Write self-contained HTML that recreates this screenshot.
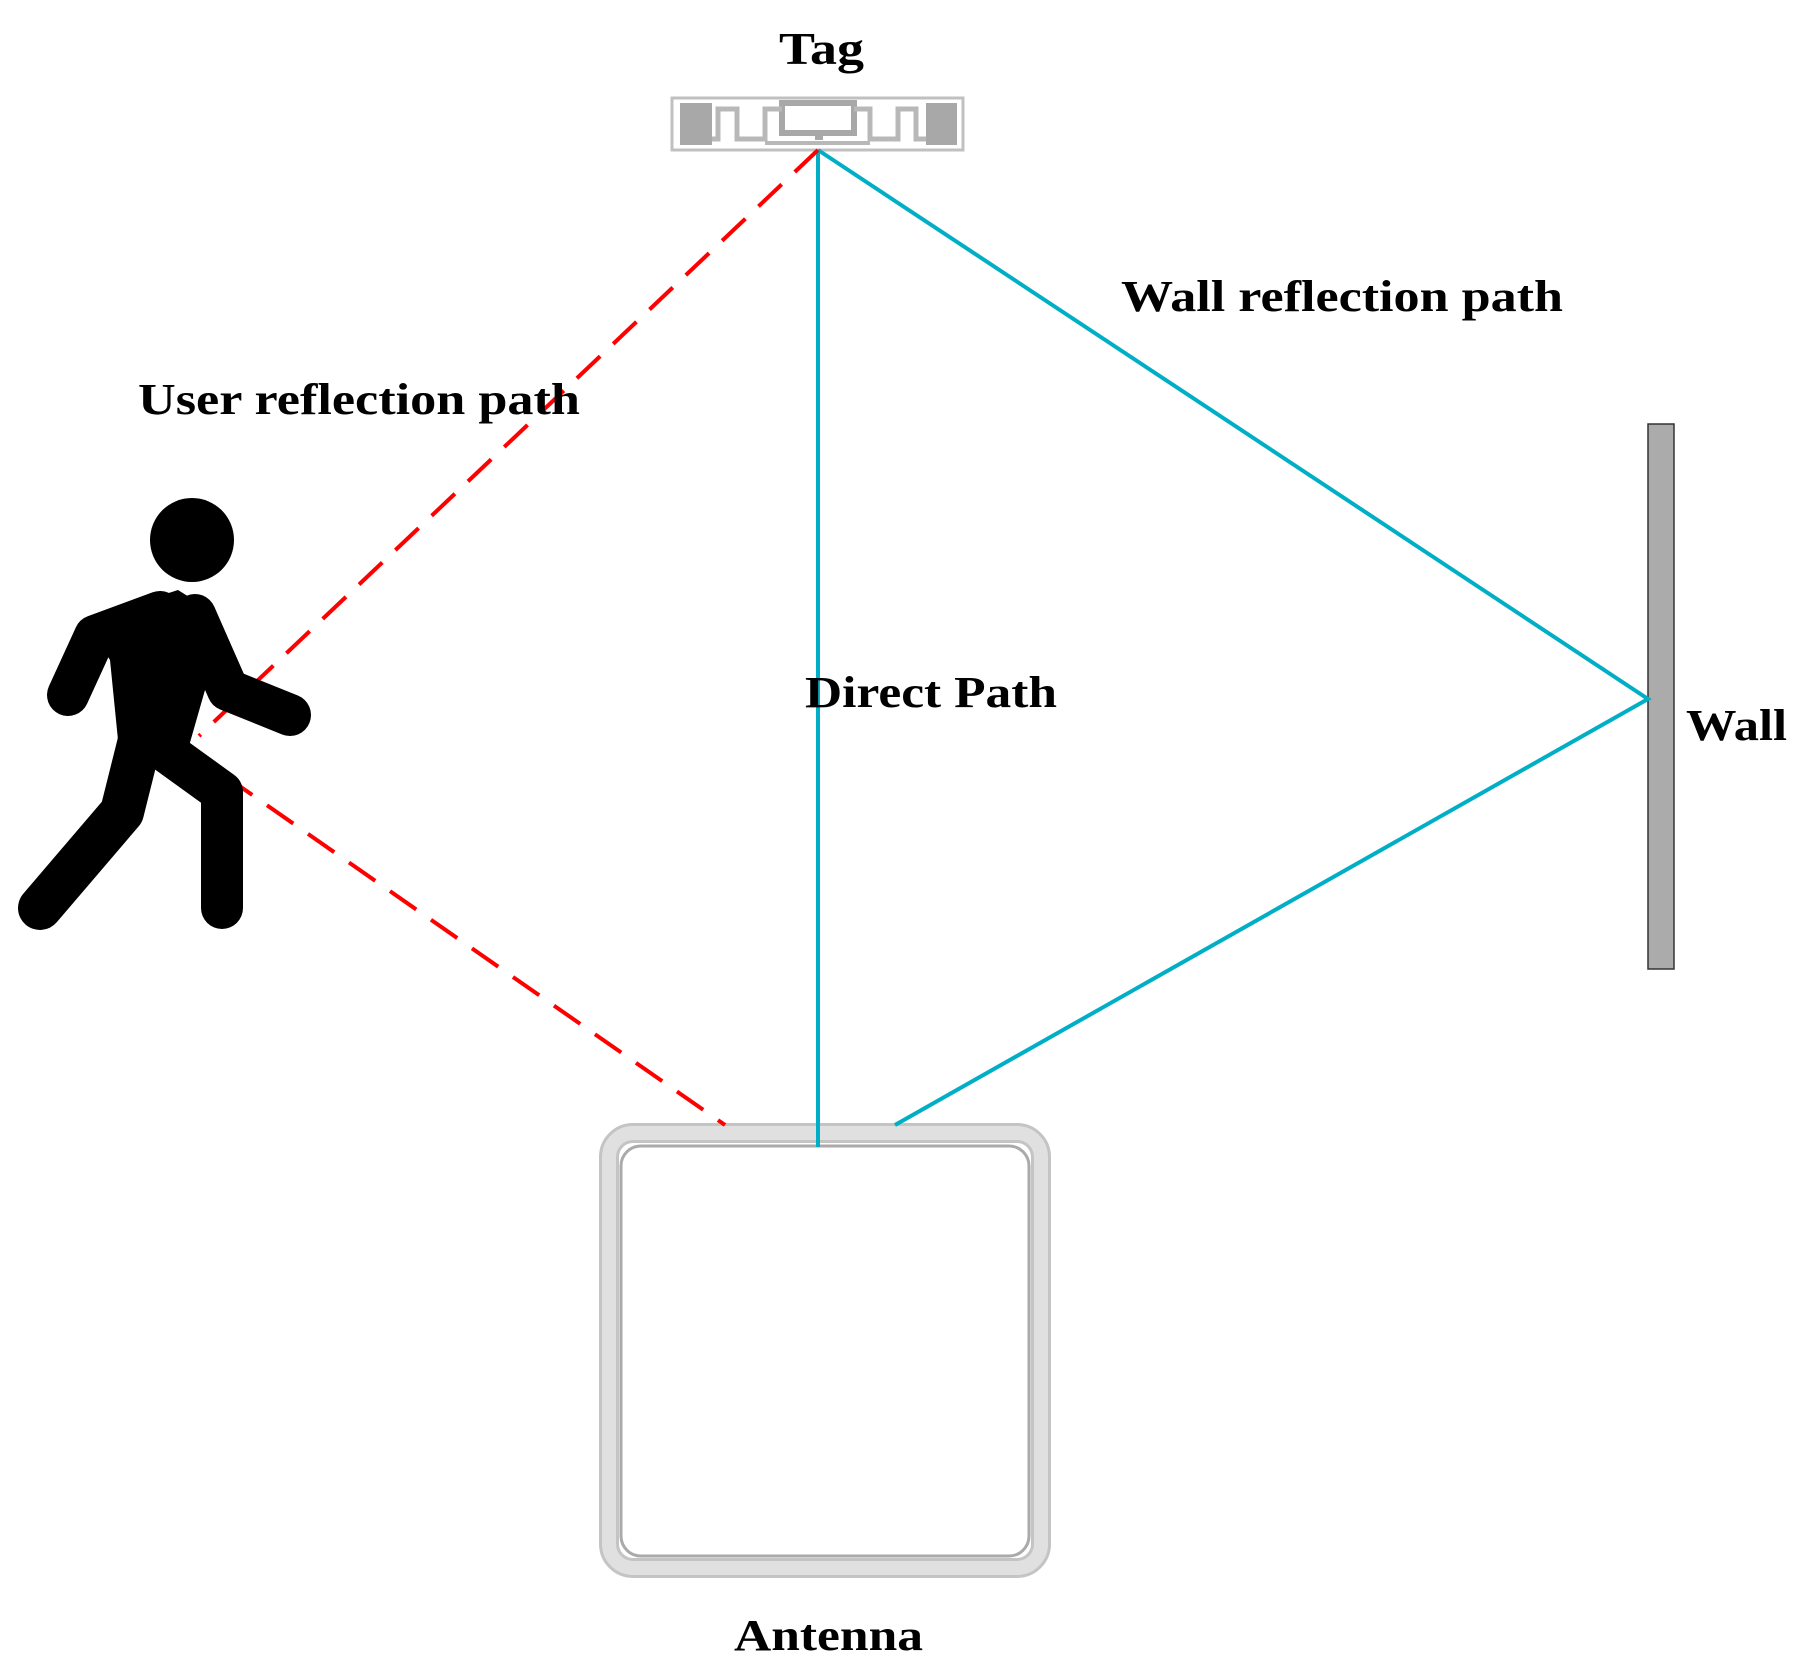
<!DOCTYPE html>
<html><head><meta charset="utf-8"><style>
html,body{margin:0;padding:0;background:#fff;}
svg{display:block;}
text{font-family:"Liberation Serif",serif;font-weight:bold;fill:#000;}
</style></head><body>
<svg width="1805" height="1665" viewBox="0 0 1805 1665" xmlns="http://www.w3.org/2000/svg">
<!-- Tag -->
<text x="779" y="64" font-size="46" textLength="85" lengthAdjust="spacingAndGlyphs">Tag</text>
<rect x="672" y="98" width="291" height="52" fill="#fff" stroke="#c0c0c0" stroke-width="3"/>
<rect x="680" y="103" width="32" height="42" fill="#a8a8a8"/>
<rect x="926" y="103" width="31" height="42" fill="#a8a8a8"/>
<rect x="782" y="103" width="72" height="30" fill="none" stroke="#a8a8a8" stroke-width="6"/>
<rect x="815" y="133" width="8" height="7" fill="#a8a8a8"/>
<polyline points="712,139 718,139 718,109 737,109 737,139 765,139 765,109 782,109" fill="none" stroke="#b8b8b8" stroke-width="5"/>
<polyline points="854,109 870,109 870,139 898,139 898,109 916,109 916,139 926,139" fill="none" stroke="#b8b8b8" stroke-width="5"/>
<line x1="765" y1="143" x2="870" y2="143" stroke="#b8b8b8" stroke-width="4"/>
<!-- Wall -->
<rect x="1648" y="424" width="26" height="545" fill="#ababab" stroke="#333" stroke-width="1.5"/>
<text x="1686" y="740" font-size="44" textLength="101" lengthAdjust="spacingAndGlyphs">Wall</text>
<!-- Antenna -->
<rect x="609" y="1133" width="432" height="435" rx="24" fill="none" stroke="#c4c4c4" stroke-width="20"/>
<rect x="609" y="1133" width="432" height="435" rx="24" fill="none" stroke="#e0e0e0" stroke-width="14"/>
<rect x="621" y="1146" width="408" height="410" rx="20" fill="#fff" stroke="#aaa" stroke-width="3"/>
<text x="734" y="1650" font-size="44" textLength="189" lengthAdjust="spacingAndGlyphs">Antenna</text>
<!-- Paths -->
<line x1="818" y1="150" x2="818" y2="1147" stroke="#00aec6" stroke-width="4"/>
<polyline points="818,150 1648,699 895,1125" fill="none" stroke="#00aec6" stroke-width="4"/>
<line x1="818" y1="150" x2="199" y2="736" stroke="#f00" stroke-width="4" stroke-dasharray="32,18"/>
<line x1="185" y1="748" x2="725" y2="1125" stroke="#f00" stroke-width="4" stroke-dasharray="32,18"/>
<!-- Person -->
<g fill="#000" stroke="#000" stroke-linecap="round" stroke-linejoin="round">
<circle cx="192" cy="540" r="42" stroke="none"/>
<polygon points="85,620 178,590 213,612 205,690 185,760 120,760 110,660" stroke="none"/>
<polyline points="68,695 95,636 160,612" fill="none" stroke-width="42"/>
<polyline points="195,615 228,690 290,715" fill="none" stroke-width="42"/>
<polyline points="150,700 122,812 40,908" fill="none" stroke-width="44"/>
<polyline points="150,740 222,792 222,908" fill="none" stroke-width="42"/>
</g>
<!-- Labels -->
<text x="138" y="414" font-size="44" textLength="442" lengthAdjust="spacingAndGlyphs">User reflection path</text>
<text x="1121" y="311" font-size="44" textLength="442" lengthAdjust="spacingAndGlyphs">Wall reflection path</text>
<text x="805" y="707" font-size="44" textLength="252" lengthAdjust="spacingAndGlyphs">Direct Path</text>
</svg>
</body></html>
